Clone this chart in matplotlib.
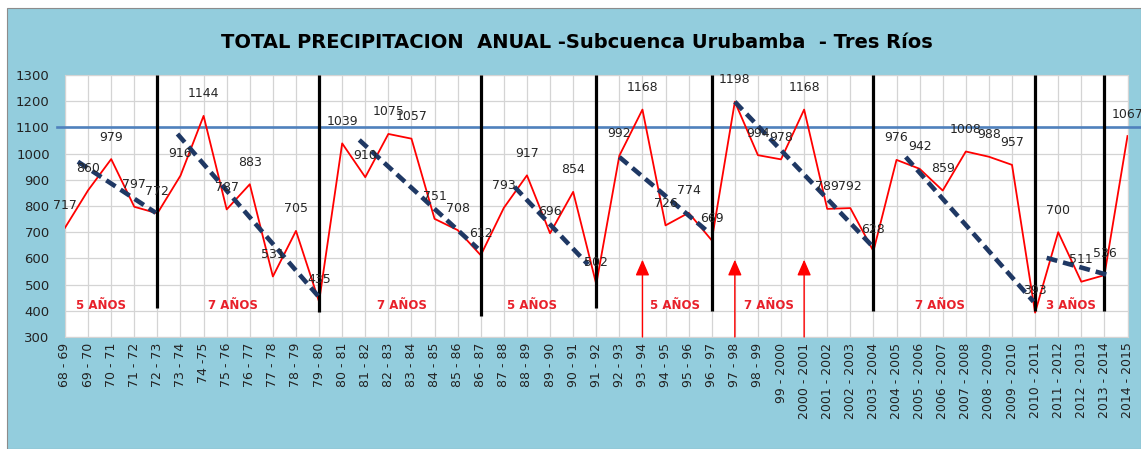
import matplotlib
matplotlib.use("Agg")
import matplotlib.pyplot as plt
from matplotlib.patches import Rectangle

# annual totals, 68-69 ... 2014-2015
periods = ["68 - 69", "69 - 70", "70 - 71", "71 - 72", "72 - 73", "73 - 74", "74 -75",
           "75 - 76", "76 - 77", "77 - 78", "78 - 79", "79 - 80", "80 - 81", "81 - 82",
           "82 - 83", "83 - 84", "84 - 85", "85 - 86", "86 - 87", "87 - 88", "88 - 89",
           "89 - 90", "90 - 91", "91 - 92", "92 - 93", "93 - 94", "94 - 95", "95 - 96",
           "96 - 97", "97 - 98", "98 - 99", "99 - 2000", "2000 - 2001", "2001 - 2002",
           "2002 - 2003", "2003 - 2004", "2004 - 2005", "2005 - 2006", "2006 - 2007",
           "2007 - 2008", "2008 - 2009", "2009 - 2010", "2010 - 2011", "2011 - 2012",
           "2012 - 2013", "2013 - 2014", "2014 - 2015"]
precip = [717, 860, 979, 797, 772, 916, 1144, 787, 883, 531, 705, 435, 1039, 910,
          1075, 1057, 751, 708, 612, 793, 917, 696, 854, 502, 992, 1168, 726, 774,
          669, 1198, 994, 978, 1168, 789, 792, 628, 976, 942, 859, 1008, 988, 957,
          393, 700, 511, 536, 1067]

threshold = 1100

# cycle dividers (category index, lower end of the bar)
divider_idx = [4, 11, 18, 23, 28, 35, 42, 45]
divider_low = [410, 395, 380, 410, 400, 400, 400, 400]

# descending trend segments: (x0, y0, x1, y1) in category index / mm
trend_x0 = [0.56, 4.87, 12.74, 19.46, 24.0, 29.0, 36.4, 42.5]
trend_y0 = [969, 1075, 1052, 873, 987, 1198, 987, 602]
trend_x1 = [3.93, 11.05, 17.87, 22.64, 27.9, 34.96, 41.93, 45.1]
trend_y1 = [774, 447, 638, 577, 697, 646, 435, 538]

cycle_text = ["5 AÑOS", "7 AÑOS", "7 AÑOS", "5 AÑOS", "5 AÑOS", "7 AÑOS", "7 AÑOS", "3 AÑOS"]
cycle_x = [1.56, 7.27, 14.57, 20.2, 26.4, 30.46, 37.9, 43.55]
cycle_y = 422

arrow_idx = [25, 29, 32]
arrow_top = 595

bg = "#93CDDD"
red = "#FF0000"
navy = "#1F3864"

fig = plt.figure(figsize=(11.41, 4.49), dpi=100)
fig.patch.set_facecolor("white")
fig.patches.append(Rectangle((7 / 1141, 0), 1 - 7 / 1141, 441 / 449, transform=fig.transFigure,
                             facecolor=bg, edgecolor="#8c8c8c", linewidth=0.8, zorder=-1))

ax = fig.add_axes([65 / 1141, 1 - 337 / 449, 1062.5 / 1141, 262 / 449])
ax.set_facecolor("white")
x = list(range(len(periods)))

ax.set_xlim(0, len(periods) - 1)
ax.set_ylim(300, 1300)
ax.set_yticks(range(300, 1301, 100))
ax.set_xticks(x)
ax.set_xticklabels(periods, rotation=90, fontsize=9, color="#222222")
ax.tick_params(axis="y", labelsize=9.5, colors="#222222", length=0, pad=11)
ax.tick_params(axis="x", length=0, pad=4)
ax.grid(True, color="#D4D4D4", linewidth=0.9)
ax.set_axisbelow(True)
for s in ax.spines.values():
    s.set_color("#D4D4D4")

# reference line
ax.plot([-0.35, 46.55], [threshold, threshold], color="#4F81BD", lw=1.9, clip_on=False, zorder=3)

ax.plot(x, precip, color=red, lw=1.3, zorder=4)

for i, lo in zip(divider_idx, divider_low):
    ax.plot([i, i], [lo, 1300], color="black", lw=2.3, zorder=5, solid_capstyle="butt")

for x0, y0, x1, y1 in zip(trend_x0, trend_y0, trend_x1, trend_y1):
    ax.plot([x0, x1], [y0, y1], color=navy, lw=3.3, dashes=(2.4, 1.3), zorder=6,
            dash_capstyle="butt")

for xi, v in zip(x, precip):
    ax.annotate(str(v), (xi, v), xytext=(0, 22), textcoords="offset pixels",
                ha="center", va="center", fontsize=9, color="#262626",
                annotation_clip=False, zorder=7)

for t, cx in zip(cycle_text, cycle_x):
    ax.text(cx, cycle_y, t, color="#E8202A", fontsize=8.5, fontweight="bold",
            ha="center", va="center", zorder=7)

for i in arrow_idx:
    ax.annotate("", xy=(i, arrow_top), xytext=(i, 300),
                arrowprops=dict(arrowstyle="-|>,head_length=0.8,head_width=0.35",
                                color=red, lw=1, mutation_scale=12, shrinkA=0, shrinkB=0),
                zorder=7)

fig.text(577 / 1141, 1 - 42 / 449,
         "TOTAL PRECIPITACION  ANUAL -Subcuenca Urubamba  - Tres Ríos",
         ha="center", va="center", fontsize=14, fontweight="bold", color="black")

fig.savefig("out.png", dpi=100)
